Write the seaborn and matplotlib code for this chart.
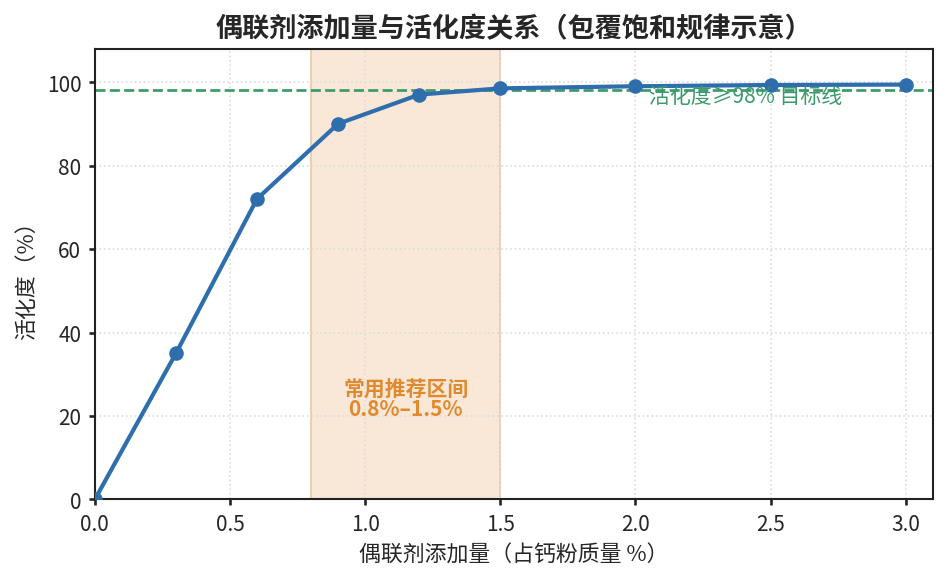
import matplotlib
matplotlib.use("Agg")
import matplotlib.pyplot as plt
import seaborn as sns
import pandas as pd

dosage = [0.0, 0.3, 0.6, 0.9, 1.2, 1.5, 2.0, 2.5, 3.0]
activation = [0, 35, 72, 90, 97, 98.5, 99.0, 99.3, 99.4]
target = 98
rec_low, rec_high = 0.8, 1.5

sns.set_theme(style="white")
plt.rcParams['font.family'] = ['Noto Sans CJK SC', 'DejaVu Sans']
plt.rcParams['axes.unicode_minus'] = False

df = pd.DataFrame({"x": dosage, "y": activation})
fig, ax = plt.subplots(figsize=(6.32, 3.893), dpi=150)

ax.axvspan(rec_low, rec_high, color="#f4d3b0", alpha=0.5, zorder=0)
ax.axvline(rec_low, color="#e8c39c", lw=0.8, alpha=0.7, zorder=0)
ax.axvline(rec_high, color="#e8c39c", lw=0.8, alpha=0.7, zorder=0)

sns.lineplot(data=df, x="x", y="y", ax=ax, color="#2f6ead", linewidth=2,
             marker="o", markersize=7, markeredgewidth=0, zorder=3)
ax.axhline(target, color="#3a9a68", ls="--", lw=1.3, zorder=2)
ax.text(2.05, 96.6, "活化度≥98% 目标线", color="#3a9a68", fontsize=10,
        va="center", ha="left", zorder=4)
ax.text((rec_low + rec_high) / 2, 24, "常用推荐区间\n0.8%–1.5%", color="#e08a2e",
        fontsize=10, fontweight="bold", ha="center", va="center", linespacing=0.9)

ax.set_xlim(0, 3.1)
ax.set_ylim(0, 108)
ax.grid(True, ls=":", color="#dddddd", lw=0.8)
for s in ax.spines.values():
    s.set_color("#222222")
    s.set_linewidth(1)
ax.tick_params(axis="both", labelsize=10, length=3, color="#222222", bottom=True, left=True)
ax.set_xlabel("偶联剂添加量（占钙粉质量 %）", fontsize=10.5)
ax.set_ylabel("活化度（%）", fontsize=10.5)
ax.set_title("偶联剂添加量与活化度关系（包覆饱和规律示意）", fontsize=13, fontweight="bold")

fig.subplots_adjust(left=0.1, right=0.984, top=0.915, bottom=0.143)
fig.savefig("out.png", dpi=150)
